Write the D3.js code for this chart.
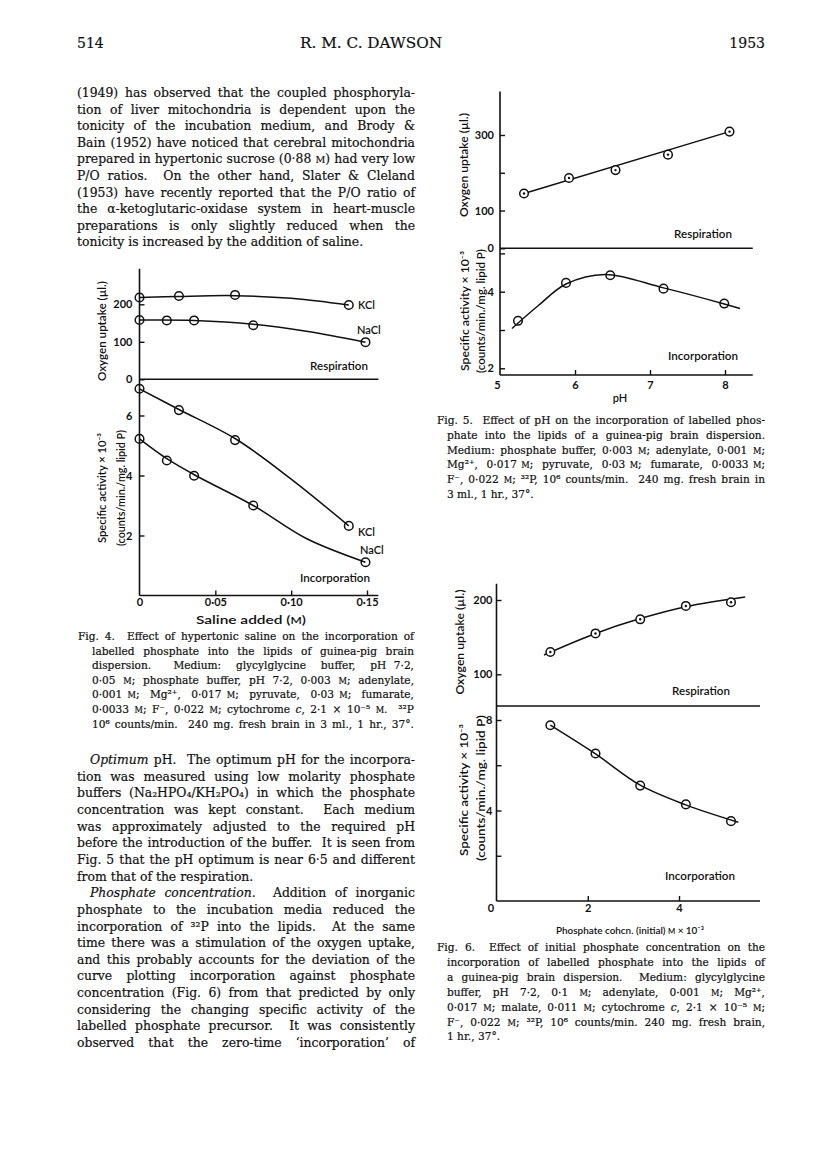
<!DOCTYPE html>
<html><head><meta charset="utf-8">
<script src="https://cdn.jsdelivr.net/npm/d3@7"></script>
<style>body{margin:0;background:#fff}svg{display:block}</style>
</head><body>
<svg id="page" width="816" height="1164"></svg>
<script>
// ---------- DATA ----------
// Fig. 4 : saline added (M)
const fig4SalineKCl = [0, 0.026, 0.063, 0.138];
const fig4SalineNaCl = [0, 0.018, 0.036, 0.075, 0.149];
const fig4RespKCl = [218, 222, 225, 198];
const fig4RespNaCl = [158, 157, 157, 144, 99];
const fig4IncKCl = [6.89, 6.18, 5.18, 2.32];
const fig4IncNaCl = [5.22, 4.5, 3.99, 3.0, 1.11];
const fig4RespCurveKCl = [[0,218],[0.026,221],[0.063,223],[0.1,216],[0.138,198]];
const fig4RespCurveNaCl = [[0,158],[0.036,157],[0.075,147],[0.11,128],[0.149,99]];
const fig4IncCurveKCl = [[0,6.89],[0.026,6.2],[0.064,5.2],[0.1,3.88],[0.138,2.32]];
const fig4IncCurveNaCl = [[0,5.22],[0.018,4.56],[0.037,4.0],[0.075,3.0],[0.11,1.9],[0.149,1.11]];
const fig4XTicks = [0, 0.05, 0.10, 0.15];
const fig4RespTicks = [0, 100, 200];
const fig4IncTicks = [2, 4, 6];

// Fig. 5 : pH
const fig5pHResp = [5.32, 5.92, 6.54, 7.24, 8.06];
const fig5Resp = [145, 186, 207, 248, 309];
const fig5RespLine = [[5.32,145],[8.06,309]];
const fig5pHInc = [5.24, 5.88, 6.47, 7.18, 7.99];
const fig5Inc = [3.24, 4.23, 4.43, 4.08, 3.69];
const fig5IncCurve = [[5.16,3.04],[5.5,3.62],[5.88,4.2],[6.4,4.45],[7.18,4.1],[7.99,3.68],[8.2,3.56]];
const fig5XTicks = [5, 6, 7, 8];
const fig5RespTicks = [0, 100, 200, 300];
const fig5RespLabels = [0, 100, 300];
const fig5IncTicks = [2, 3, 4, 5];
const fig5IncLabels = [2, 4];

// Fig. 6 : phosphate concn. (M x 10^-3)
const fig6Conc = [1.18, 2.17, 3.15, 4.15, 5.14];
const fig6Resp = [130, 155, 174, 192, 197];
const fig6Inc = [7.77, 6.52, 5.1, 4.27, 3.53];
const fig6RespCurve = [[1.04,126],[2.17,155],[3.15,175],[4.15,191],[5.45,204]];
const fig6IncCurve = [[1.18,7.77],[2.17,6.5],[3.15,5.12],[4.15,4.25],[5.3,3.48]];
const fig6XTicks = [0, 2, 4];
const fig6RespTicks = [100, 200];
const fig6IncTicks = [2, 4, 6, 8];
const fig6IncLabels = [4, 8];

// ---------- PAGE ----------
const svg = d3.select('#page');
const INK = '#111';
const SERIF = 'DejaVu Serif, serif';
const SANS = 'Lato, sans-serif';

function rich(sel, str){
  str.split(/(\*[^*]+\*|\{[^}]+\})/).filter(s=>s.length).forEach(p=>{
    if(p[0]==='*') sel.append('tspan').attr('font-style','italic').text(p.slice(1,-1));
    else if(p[0]==='{') sel.append('tspan').attr('font-size','0.78em').text(p.slice(1,-1));
    else sel.append('tspan').text(p);
  });
}
function justify(t, target){
  const node = t.node();
  const len = node.getComputedTextLength();
  const spaces = (node.textContent.match(/ /g)||[]).length;
  const ws = spaces ? (target-len)/spaces : 0;
  if (spaces && ws > -1.2) {
    t.attr('word-spacing', ws);
    const after = node.getComputedTextLength();
    if (Math.abs(after-target) > 1.5) t.attr('word-spacing',null).attr('textLength',target).attr('lengthAdjust','spacing');
  } else {
    t.attr('textLength',target).attr('lengthAdjust','spacing');
  }
}
function block(c){
  c.lines.forEach((ln,i)=>{
    const ind = ln.i||0;
    const t = svg.append('text').attr('x',c.x+ind).attr('y',c.y+i*c.dy)
      .attr('font-family',SERIF).attr('font-size',c.size).attr('fill',INK)
      .attr('stroke',INK).attr('stroke-width',0.2)
      .attr('xml:space','preserve');
    rich(t, ln.t);
    if(ln.j) justify(t, c.w-ind);
  });
}

// header
const hdr = (x,str,anchor,len)=>{ const t = svg.append('text').attr('x',x).attr('y',48).attr('font-family',SERIF)
  .attr('font-size',14).attr('fill',INK).attr('stroke',INK).attr('stroke-width',0.2).attr('text-anchor',anchor).text(str);
  if(len) t.attr('textLength',len).attr('lengthAdjust','spacingAndGlyphs'); };
hdr(77,'514','start');
hdr(300,'R. M. C. DAWSON','start',142);
hdr(765,'1953','end');

const LX = 77, LW = 338;
block({x:LX, y:97, dy:16.6, w:LW, size:12.4, lines:[
  {t:'(1949) has observed that the coupled phosphoryla-', j:1},
  {t:'tion of liver mitochondria is dependent upon the', j:1},
  {t:'tonicity of the incubation medium, and Brody &', j:1},
  {t:'Bain (1952) have noticed that cerebral mitochondria', j:1},
  {t:'prepared in hypertonic sucrose (0·88 {M}) had very low', j:1},
  {t:'P/O ratios.  On the other hand, Slater & Cleland', j:1},
  {t:'(1953) have recently reported that the P/O ratio of', j:1},
  {t:'the α-ketoglutaric-oxidase system in heart-muscle', j:1},
  {t:'preparations is only slightly reduced when the', j:1},
  {t:'tonicity is increased by the addition of saline.'}
]});

block({x:78, y:640, dy:14.6, w:336, size:10.6, lines:[
  {t:'Fig. 4.  Effect of hypertonic saline on the incorporation of', j:1},
  {t:'labelled phosphate into the lipids of guinea-pig brain', i:14, j:1},
  {t:'dispersion.   Medium:  glycylglycine  buffer,  pH 7·2,', i:14, j:1},
  {t:'0·05 {M}; phosphate buffer, pH 7·2, 0·003 {M}; adenylate,', i:14, j:1},
  {t:'0·001 {M};  Mg²⁺,  0·017 {M};  pyruvate,  0·03 {M};  fumarate,', i:14, j:1},
  {t:'0·0033 {M}; F⁻, 0·022 {M}; cytochrome *c*, 2·1 × 10⁻⁵ {M}.  ³²P', i:14, j:1},
  {t:'10⁶ counts/min.  240 mg. fresh brain in 3 ml., 1 hr., 37°.', i:14, j:1}
]});

block({x:LX, y:764, dy:16.65, w:LW, size:12.4, lines:[
  {t:'*Optimum* pH.  The optimum pH for the incorpora-', i:13, j:1},
  {t:'tion was measured using low molarity phosphate', j:1},
  {t:'buffers (Na₂HPO₄/KH₂PO₄) in which the phosphate', j:1},
  {t:'concentration was kept constant.  Each medium', j:1},
  {t:'was approximately adjusted to the required pH', j:1},
  {t:'before the introduction of the buffer.  It is seen from', j:1},
  {t:'Fig. 5 that the pH optimum is near 6·5 and different', j:1},
  {t:'from that of the respiration.'},
  {t:'*Phosphate concentration.*  Addition of inorganic', i:13, j:1},
  {t:'phosphate to the incubation media reduced the', j:1},
  {t:'incorporation of ³²P into the lipids.  At the same', j:1},
  {t:'time there was a stimulation of the oxygen uptake,', j:1},
  {t:'and this probably accounts for the deviation of the', j:1},
  {t:'curve plotting incorporation against phosphate', j:1},
  {t:'concentration (Fig. 6) from that predicted by only', j:1},
  {t:'considering the changing specific activity of the', j:1},
  {t:'labelled phosphate precursor.  It was consistently', j:1},
  {t:'observed that the zero-time ‘incorporation’ of', j:1}
]});

block({x:437, y:424, dy:14.8, w:328, size:10.6, lines:[
  {t:'Fig. 5.  Effect of pH on the incorporation of labelled phos-', j:1},
  {t:'phate into the lipids of a guinea-pig brain dispersion.', i:10, j:1},
  {t:'Medium: phosphate buffer, 0·003 {M}; adenylate, 0·001 {M};', i:10, j:1},
  {t:'Mg²⁺,  0·017 {M};  pyruvate,  0·03 {M};  fumarate,  0·0033 {M};', i:10, j:1},
  {t:'F⁻, 0·022 {M}; ³²P, 10⁶ counts/min.  240 mg. fresh brain in', i:10, j:1},
  {t:'3 ml., 1 hr., 37°.', i:10}
]});

block({x:437, y:951, dy:14.9, w:328, size:10.6, lines:[
  {t:'Fig. 6.  Effect of initial phosphate concentration on the', j:1},
  {t:'incorporation of labelled phosphate into the lipids of', i:10, j:1},
  {t:'a guinea-pig brain dispersion.  Medium: glycylglycine', i:10, j:1},
  {t:'buffer, pH 7·2, 0·1 {M}; adenylate, 0·001 {M}; Mg²⁺,', i:10, j:1},
  {t:'0·017 {M}; malate, 0·011 {M}; cytochrome *c*, 2·1 × 10⁻⁵ {M};', i:10, j:1},
  {t:'F⁻, 0·022 {M}; ³²P, 10⁶ counts/min. 240 mg. fresh brain,', i:10, j:1},
  {t:'1 hr., 37°.', i:10}
]});

// ---------- CHARTS ----------
const dot = d => String(d).replace('.','·');

function drawFigure(c){
  const g = svg.append('g').attr('color',INK);
  const ax = c.x(c.xStart), right = c.x(c.xEnd);
  const sepY = c.yU(c.yUMin), botY = c.yL(c.yLMin);
  const ln = (x1,y1,x2,y2,w)=>g.append('line').attr('x1',x1).attr('y1',y1).attr('x2',x2).attr('y2',y2)
      .attr('stroke',INK).attr('stroke-width',w||1.6);
  ln(ax, c.yU(c.yUMax), ax, botY);
  ln(ax, sepY, right, sepY);
  ln(ax, botY, right, botY);

  const styleAxis = s => { s.select('.domain').remove();
    s.attr('font-family',SANS).attr('font-size',11).attr('font-weight',700);
    s.selectAll('line').attr('stroke-width',1.4); };

  g.append('g').attr('transform',`translate(${ax},0)`)
    .call(d3.axisLeft(c.yU).tickValues(c.yUTicks).tickSizeInner(-5).tickSizeOuter(0).tickPadding(c.yPad)
      .tickFormat(d=>c.yULabels.includes(d)?String(d):'')).call(styleAxis);
  g.append('g').attr('transform',`translate(${ax},0)`)
    .call(d3.axisLeft(c.yL).tickValues(c.yLTicks).tickSizeInner(-5).tickSizeOuter(0).tickPadding(c.yPad)
      .tickFormat(d=>c.yLLabels.includes(d)?String(d):'')).call(styleAxis);
  const xa = g.append('g').attr('transform',`translate(0,${botY})`)
    .call(d3.axisBottom(c.x).tickValues(c.xTicks).tickSizeInner(-5).tickSizeOuter(0).tickPadding(c.xPad)
      .tickFormat(c.xFmt)).call(styleAxis);
  xa.selectAll('.tick').filter(d=>d===c.xStart).select('line').remove();
  if (c.xFirstDx) xa.selectAll('.tick').filter(d=>d===c.xStart).select('text').attr('dx',c.xFirstDx);

  c.series.forEach(s=>{
    const y = s.panel==='U' ? c.yU : c.yL;
    g.append('path').datum(s.curve)
      .attr('d', d3.line().x(d=>c.x(d[0])).y(d=>y(d[1])).curve(s.straight?d3.curveLinear:d3.curveCatmullRom.alpha(0.5)))
      .attr('fill','none').attr('stroke',INK).attr('stroke-width',1.5);
    const pts = s.xs.map((xv,i)=>[xv, s.ys[i]]);
    g.selectAll(null).data(pts).enter().append('circle')
      .attr('cx',d=>c.x(d[0])).attr('cy',d=>y(d[1])).attr('r',4.3)
      .attr('fill', s.dot ? '#fff' : 'none').attr('stroke',INK).attr('stroke-width',1.5);
    if (s.dot) g.selectAll(null).data(pts).enter().append('circle')
      .attr('cx',d=>c.x(d[0])).attr('cy',d=>y(d[1])).attr('r',1.2).attr('fill',INK);
  });

  const txt = (x,y,str,o)=>{ const t=g.append('text').attr('x',x).attr('y',y).attr('font-family',SANS)
      .attr('font-size',o&&o.size||11).attr('font-weight',o&&o.w||600).attr('fill',INK);
    if(o&&o.len) t.attr('textLength',o.len).attr('lengthAdjust','spacingAndGlyphs');
    if(o&&o.anchor) t.attr('text-anchor',o.anchor);
    if(o&&o.rot){ t.attr('transform',`rotate(-90,${x},${y})`).attr('dominant-baseline','central').attr('text-anchor','middle'); }
    rich(t,str); return t; };
  c.texts.forEach(d=>txt(d[0],d[1],d[2],d[3]));
}

// Fig. 4
drawFigure({
  x: d3.scaleLinear().domain([0,0.15]).range([139.5,367]), xStart:0, xEnd:0.1575,
  yU: d3.scaleLinear().domain([0,200]).range([379.3,304.3]), yUMin:0, yUMax:295,
  yL: d3.scaleLinear().domain([0,6]).range([595.5,415.5]), yLMin:0,
  yUTicks: fig4RespTicks, yULabels: fig4RespTicks, yLTicks: fig4IncTicks, yLLabels: fig4IncTicks,
  xTicks: fig4XTicks, xFmt: d=>d===0?'0':dot(d3.format('.2f')(d)), yPad:7, xPad:3,
  series:[
    {panel:'U', xs:fig4SalineKCl, ys:fig4RespKCl, curve:fig4RespCurveKCl},
    {panel:'U', xs:fig4SalineNaCl, ys:fig4RespNaCl, curve:fig4RespCurveNaCl},
    {panel:'L', xs:fig4SalineKCl, ys:fig4IncKCl, curve:fig4IncCurveKCl},
    {panel:'L', xs:fig4SalineNaCl, ys:fig4IncNaCl, curve:fig4IncCurveNaCl}
  ],
  texts:[
    [358,309,'KCl'],[357,334,'NaCl'],[358,536,'KCl'],[360,554,'NaCl'],
    [310,370,'Respiration',{len:58}],[300,582,'Incorporation',{len:70}],
    [101,331,'Oxygen uptake (µl.)',{rot:1,len:100}],
    [101,488,'Specific activity × 10⁻³',{rot:1,len:110}],
    [119.5,488,'(counts/min./mg. lipid P)',{rot:1,len:116}],
    [251,624,'Saline added ({M})',{anchor:'middle',len:110}]
  ]
});

// Fig. 5
drawFigure({
  x: d3.scaleLinear().domain([5,8]).range([500,725]), xStart:5, xEnd:8.37,
  yU: d3.scaleLinear().domain([0,300]).range([248.3,135]), yUMin:0, yUMax:415,
  yL: d3.scaleLinear().domain([2,4]).range([368.3,291.7]), yLMin:1.825,
  yUTicks: fig5RespTicks, yULabels: fig5RespLabels, yLTicks: fig5IncTicks, yLLabels: fig5IncLabels,
  xTicks: fig5XTicks, xFmt: d=>String(d), yPad:6, xPad:6, xFirstDx:-3,
  series:[
    {panel:'U', xs:fig5pHResp, ys:fig5Resp, curve:fig5RespLine, straight:1, dot:1},
    {panel:'L', xs:fig5pHInc, ys:fig5Inc, curve:fig5IncCurve}
  ],
  texts:[
    [674,238,'Respiration',{len:58}],[668,360,'Incorporation',{len:70}],
    [462.7,165,'Oxygen uptake (µl.)',{rot:1,len:104}],
    [464,311,'Specific activity × 10⁻³',{rot:1,len:120}],
    [479.5,311,'(counts/min./mg. lipid P)',{rot:1,len:124}],
    [620,402,'pH',{anchor:'middle'}]
  ]
});

// Fig. 6
drawFigure({
  x: d3.scaleLinear().domain([0,4]).range([496.5,679]), xStart:0, xEnd:5.775,
  yU: d3.scaleLinear().domain([100,200]).range([674.3,600]), yUMin:57.3, yUMax:222,
  yL: d3.scaleLinear().domain([0,8]).range([901,720]), yLMin:0,
  yUTicks: fig6RespTicks, yULabels: fig6RespTicks, yLTicks: fig6IncTicks, yLLabels: fig6IncLabels,
  xTicks: fig6XTicks, xFmt: d=>String(d), yPad:4, xPad:3, xFirstDx:-6,
  series:[
    {panel:'U', xs:fig6Conc, ys:fig6Resp, curve:fig6RespCurve, dot:1},
    {panel:'L', xs:fig6Conc, ys:fig6Inc, curve:fig6IncCurve}
  ],
  texts:[
    [672,695,'Respiration',{len:58}],[665,880,'Incorporation',{len:70}],
    [459.3,642,'Oxygen uptake (µl.)',{rot:1,len:105}],
    [463.3,790,'Specific activity × 10⁻³',{rot:1,len:132}],
    [480,788,'(counts/min./mg. lipid P)',{rot:1,len:146}],
    [630,934,'Phosphate cohcn. (initial) {M} × 10⁻³',{anchor:'middle',len:148,size:10}]
  ]
});
</script>
</body></html>
